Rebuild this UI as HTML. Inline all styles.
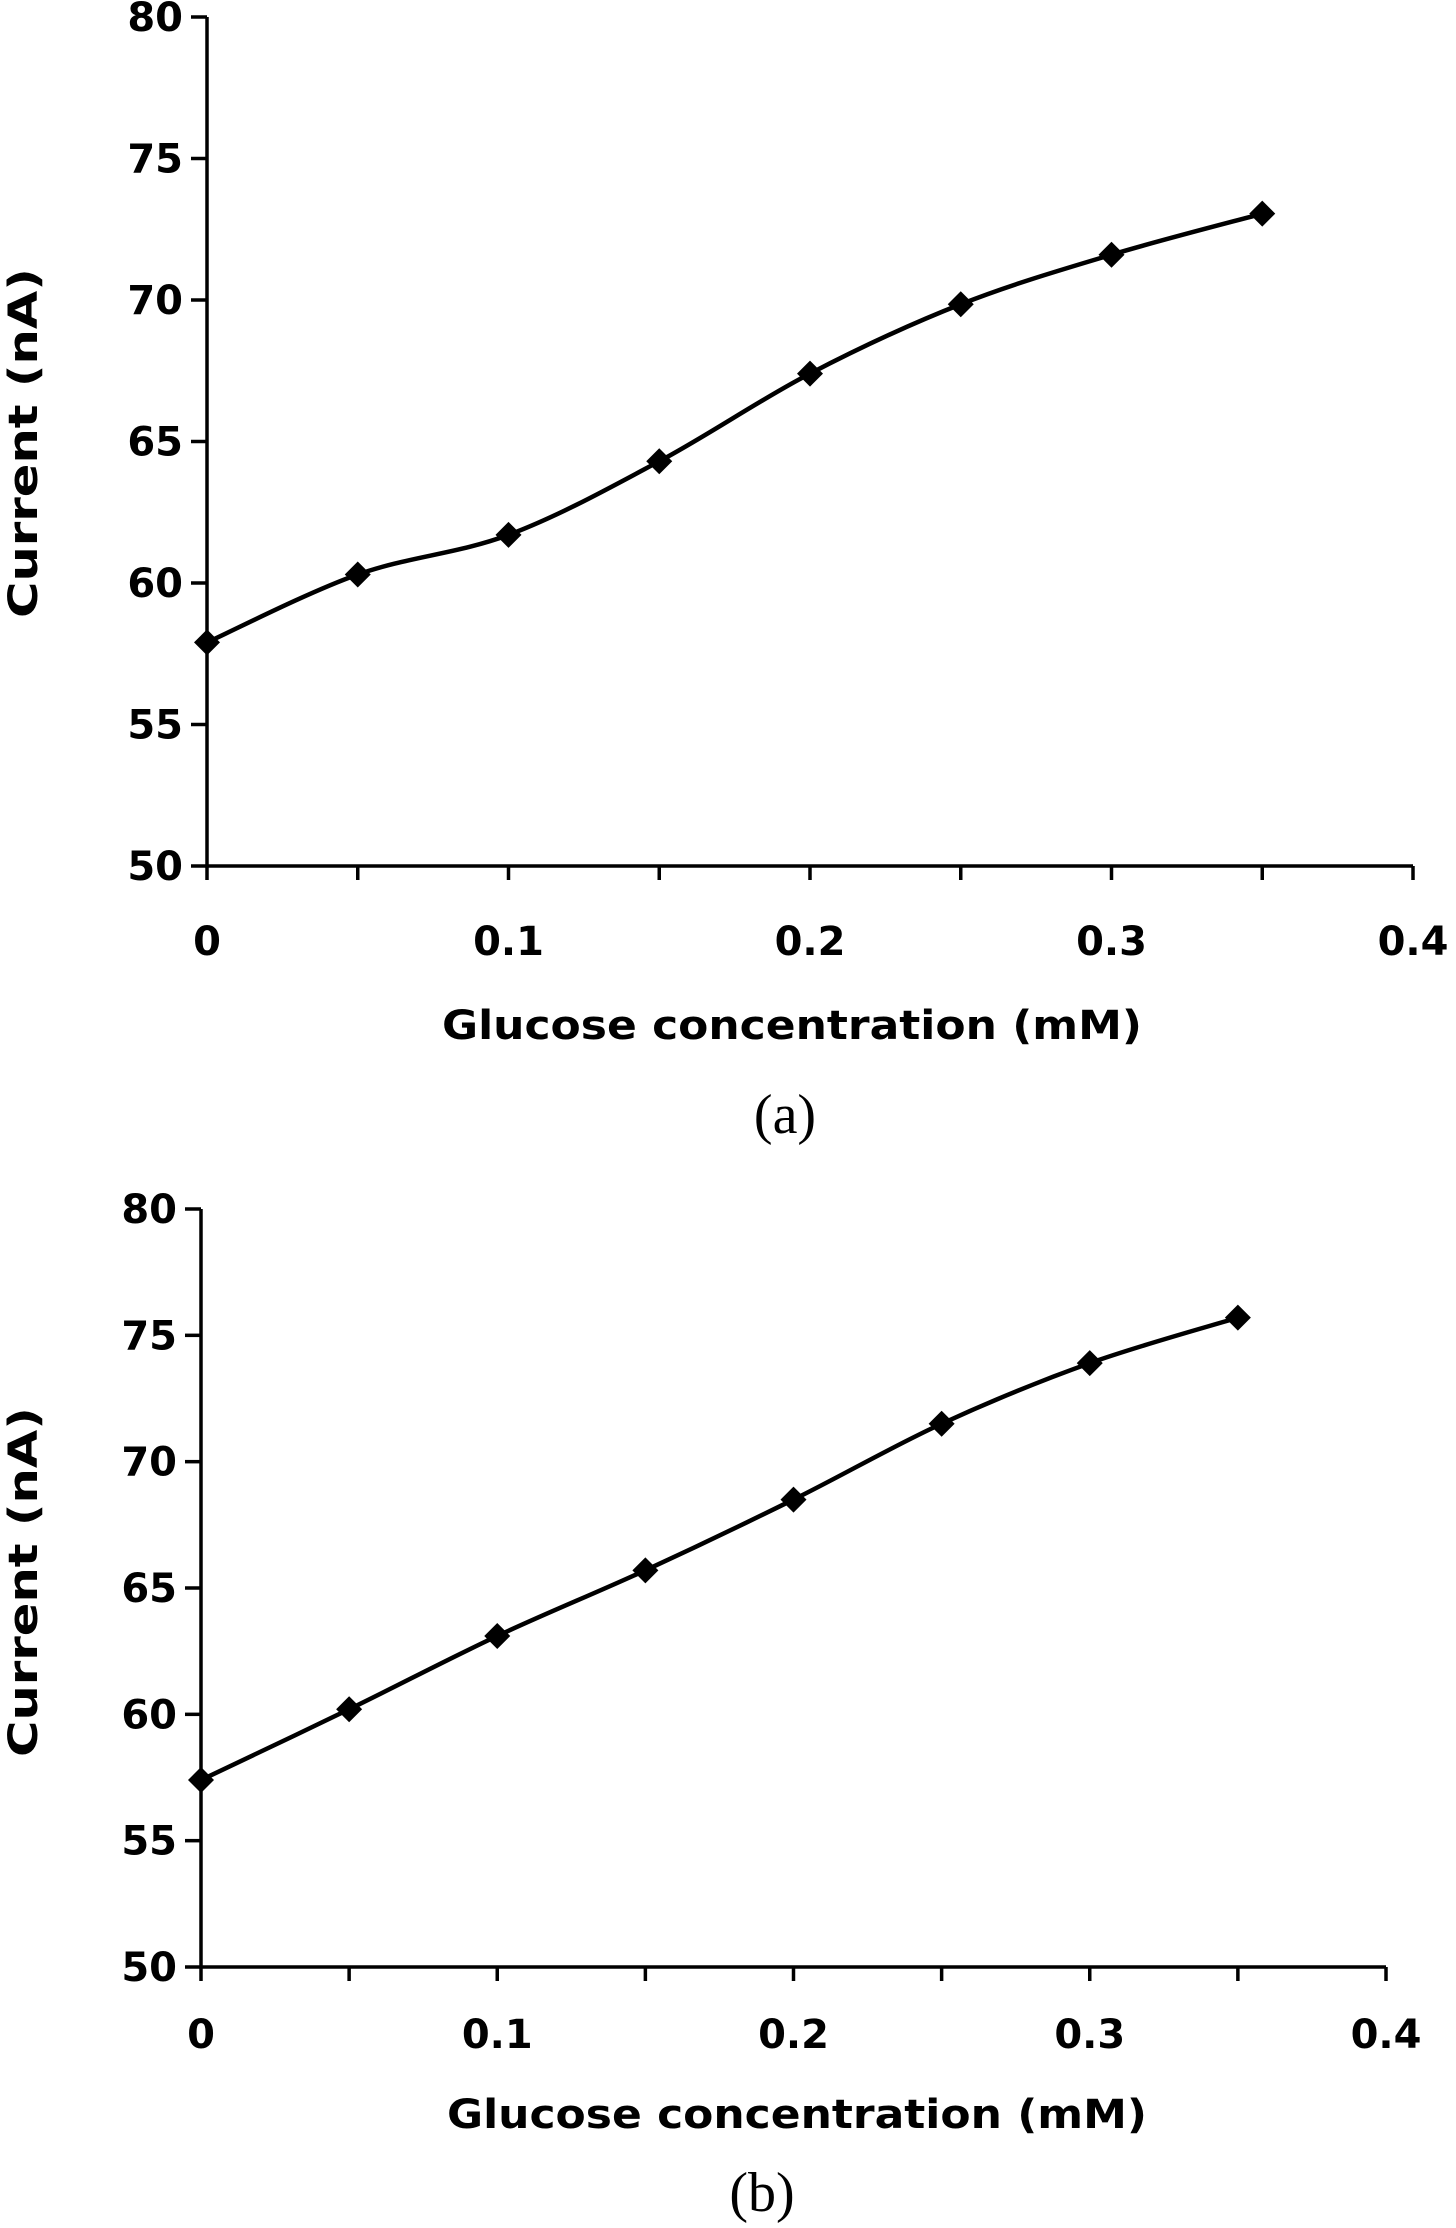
<!DOCTYPE html>
<html><head><meta charset="utf-8"><style>
html,body{margin:0;padding:0;background:#fff;}
svg{display:block;}
text{font-family:"DejaVu Sans","Liberation Sans",sans-serif;font-weight:bold;fill:#000;}
.cap{font-family:"Liberation Serif",serif;font-weight:normal;font-size:56px;}
</style></head><body>
<svg id="fig" width="1456" height="2228" viewBox="0 0 1456 2228"></svg>
<script>
const xCategories = [0, 0.05, 0.1, 0.15, 0.2, 0.25, 0.3, 0.35];
const seriesA = [57.9, 60.3, 61.7, 64.3, 67.4, 69.85, 71.6, 73.05];
const seriesB = [57.4, 60.2, 63.1, 65.7, 68.5, 71.5, 73.9, 75.7];
const yTicks = [50, 55, 60, 65, 70, 75, 80];
const xTicks = [0, 0.1, 0.2, 0.3, 0.4];
const xTickLabels = ["0", "0.1", "0.2", "0.3", "0.4"];
const xMinorTicks = [0, 0.05, 0.1, 0.15, 0.2, 0.25, 0.3, 0.35, 0.4];

const NS = "http://www.w3.org/2000/svg";
const svg = document.getElementById("fig");
function mk(tag, attrs, parent){
  const e = document.createElementNS(NS, tag);
  for (const k in attrs) e.setAttribute(k, attrs[k]);
  (parent||svg).appendChild(e);
  return e;
}
function drawChart(id, L, R, T, B, values, caption, capX, capY, labY, titleX, titleY, ytitleY){
  const g = mk("g", {});
  
  
  const xs = v => L + (v - 0) / 0.4 * (R - L);
  const ys = v => B - (v - 50) / 30 * (B - T);
  const ax = mk("path", {d:`M${L} ${T} V${B} H${R}`, fill:"none", stroke:"#000", "stroke-width":3.5}, g);
  
  
  yTicks.forEach(v => {
    const y = ys(v);
    mk("line", {x1:L-16, x2:L, y1:y, y2:y, stroke:"#000", "stroke-width":3.5}, g);
    const t = mk("text", {x:L-24, y:y+14, "text-anchor":"end", "font-size":40}, g);
    t.textContent = v;
    
    
  });
  xMinorTicks.forEach(v => {
    mk("line", {x1:xs(v), x2:xs(v), y1:B, y2:B+14, stroke:"#000", "stroke-width":3.5}, g);
  });
  xTicks.forEach((v,i) => {
    const t = mk("text", {x:xs(v), y:labY+14, "text-anchor":"middle", "font-size":40}, g);
    t.textContent = xTickLabels[i];
    
    
  });
  const xt = mk("text", {x:titleX, y:titleY+14, "text-anchor":"middle", "font-size":40, textLength:700, lengthAdjust:"spacingAndGlyphs"}, g);
  xt.textContent = "Glucose concentration (mM)";
  
  
  const yt = mk("text", {x:0, y:0, "text-anchor":"middle", "font-size":40, textLength:350, lengthAdjust:"spacingAndGlyphs", transform:`translate(37 ${ytitleY}) rotate(-90)`}, g);
  yt.textContent = "Current (nA)";
  
  
  const pts = xCategories.map((c,i) => [xs(c), ys(values[i])]);
  let d = `M${pts[0][0]} ${pts[0][1]}`;
  for (let i=0;i<pts.length-1;i++){
    const p0 = pts[Math.max(0,i-1)], p1 = pts[i], p2 = pts[i+1], p3 = pts[Math.min(pts.length-1,i+2)];
    const c1 = [p1[0]+(p2[0]-p0[0])/6, p1[1]+(p2[1]-p0[1])/6];
    const c2 = [p2[0]-(p3[0]-p1[0])/6, p2[1]-(p3[1]-p1[1])/6];
    d += ` C${c1[0]} ${c1[1]} ${c2[0]} ${c2[1]} ${p2[0]} ${p2[1]}`;
  }
  const line = mk("path", {d:d, fill:"none", stroke:"#000", "stroke-width":4.5}, g);
  
  
  pts.forEach(p => {
    const s = 13;
    const m = mk("polygon", {points:`${p[0]},${p[1]-s} ${p[0]+s},${p[1]} ${p[0]},${p[1]+s} ${p[0]-s},${p[1]}`, fill:"#000"}, g);
    
    
  });
  const c = mk("text", {x:capX, y:capY+19, "text-anchor":"middle", class:"cap"}, g);
  c.textContent = caption;
  
  
}
drawChart("a", 207, 1413, 17, 866, seriesA, "(a)", 785, 1114, 941, 792, 1025, 443);
drawChart("b", 201, 1386, 1209, 1967, seriesB, "(b)", 762, 2192, 2034, 797, 2114, 1582);
</script>
</body></html>
